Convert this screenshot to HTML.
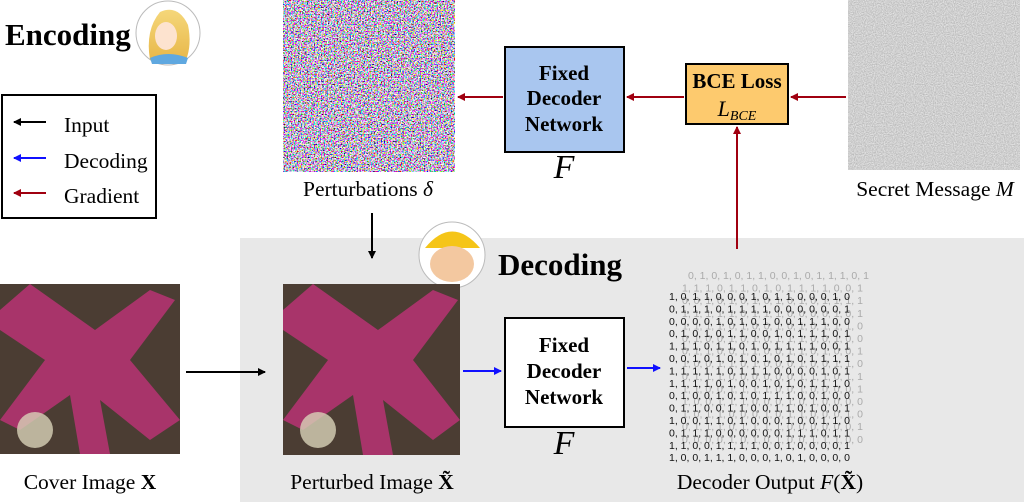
<!DOCTYPE html>
<html><head><meta charset="utf-8"><style>
html,body{margin:0;padding:0;background:#fff}
svg{display:block}
text{font-family:"Liberation Serif",serif}
</style></head><body>
<svg id="s" width="1024" height="502" viewBox="0 0 1024 502" xmlns="http://www.w3.org/2000/svg">
<defs>
<marker id="mk" markerWidth="8" markerHeight="8" refX="7" refY="4" orient="auto" markerUnits="userSpaceOnUse"><path d="M0,0 L8,4 L0,8 Z" fill="#000"/></marker>
<marker id="mb" markerWidth="8" markerHeight="8" refX="7" refY="4" orient="auto" markerUnits="userSpaceOnUse"><path d="M0,0 L8,4 L0,8 Z" fill="#1010ff"/></marker>
<marker id="mr" markerWidth="8" markerHeight="8" refX="7" refY="4" orient="auto" markerUnits="userSpaceOnUse"><path d="M0,0 L8,4 L0,8 Z" fill="#a00010"/></marker>
<filter id="noise" x="0" y="0" width="1" height="1"><feTurbulence type="fractalNoise" baseFrequency="0.7" numOctaves="2" seed="3"/><feColorMatrix type="matrix" values="4.5 0 0 0 -1.6  0 4.5 0 0 -1.7  0 0 4.5 0 -1.5  0 0 0 0 1"/></filter>
<filter id="gnoise" x="0" y="0" width="1" height="1"><feTurbulence type="fractalNoise" baseFrequency="0.9" numOctaves="1" seed="5"/><feColorMatrix type="matrix" values="0 0 0 0 0.4 0 0 0 0 0.4 0 0 0 0 0.4 1.2 0 0 0 -0.1"/></filter>
<linearGradient id="hair" x1="0" y1="0" x2="0" y2="1"><stop offset="0" stop-color="#f5d77a"/><stop offset="1" stop-color="#e8b84a"/></linearGradient>
</defs>

<rect x="240" y="238" width="784" height="264" fill="#e8e8e8"/>

<text x="5" y="45" font-size="31" font-weight="bold">Encoding</text>
<g>
<circle cx="168" cy="33" r="32" fill="#fff" stroke="#bbb"/>
<path d="M150,60 Q145,30 160,12 Q178,4 188,25 Q192,45 186,60 Z" fill="url(#hair)"/>
<ellipse cx="166" cy="36" rx="11" ry="14" fill="#fde3cf"/>
<path d="M150,58 Q168,50 188,58 L186,64 L152,64 Z" fill="#5fa8e0"/>
</g>

<g>
<rect x="2" y="95" width="154" height="123" fill="#fff" stroke="#000" stroke-width="2"/>
<line x1="46" y1="122" x2="14" y2="122" stroke="#000" stroke-width="2" marker-end="url(#mk)"/>
<text x="64" y="132" font-size="21.5">Input</text>
<line x1="46" y1="158" x2="14" y2="158" stroke="#1010ff" stroke-width="2" marker-end="url(#mb)"/>
<text x="64" y="168" font-size="21.5">Decoding</text>
<line x1="46" y1="193" x2="14" y2="193" stroke="#a00010" stroke-width="2" marker-end="url(#mr)"/>
<text x="64" y="203" font-size="21.5">Gradient</text>
</g>

<g>
<rect x="283" y="0" width="172" height="172" fill="#888"/>
<rect x="283" y="0" width="172" height="172" filter="url(#noise)"/>
</g>
<text x="368" y="196" font-size="21.5" text-anchor="middle">Perturbations <tspan font-style="italic">δ</tspan></text>

<g>
<rect x="505" y="47" width="119" height="105" fill="#a9c6ef" stroke="#000" stroke-width="2"/>
<text x="564" y="80" font-size="21" font-weight="bold" text-anchor="middle">Fixed</text>
<text x="564" y="105" font-size="21" font-weight="bold" text-anchor="middle">Decoder</text>
<text x="564" y="131" font-size="21" font-weight="bold" text-anchor="middle">Network</text>
<text x="564" y="178" font-size="34" font-style="italic" text-anchor="middle">F</text>
</g>

<g>
<rect x="686" y="64" width="102" height="60" fill="#fdca6e" stroke="#000" stroke-width="2"/>
<text x="737" y="88" font-size="21" font-weight="bold" text-anchor="middle">BCE Loss</text>
<text x="737" y="116" font-size="22" font-style="italic" text-anchor="middle">L<tspan font-size="14" dy="4">BCE</tspan></text>
</g>

<g>
<rect x="848" y="0" width="172" height="170" fill="#f4f4f4"/>
<rect x="848" y="0" width="172" height="170" filter="url(#gnoise)"/>
</g>
<text x="935" y="196" font-size="21.5" text-anchor="middle">Secret Message <tspan font-style="italic">M</tspan></text>

<line x1="846" y1="97" x2="791" y2="97" stroke="#a00010" stroke-width="2" marker-end="url(#mr)"/>
<line x1="684" y1="97" x2="627" y2="97" stroke="#a00010" stroke-width="2" marker-end="url(#mr)"/>
<line x1="503" y1="97" x2="458" y2="97" stroke="#a00010" stroke-width="2" marker-end="url(#mr)"/>
<line x1="737" y1="249" x2="737" y2="127" stroke="#a00010" stroke-width="2" marker-end="url(#mr)"/>
<line x1="372" y1="213" x2="372" y2="258" stroke="#000" stroke-width="2" marker-end="url(#mk)"/>

<g>
<circle cx="452" cy="255" r="33" fill="#fff" stroke="#bbb"/>
<path d="M425,248 Q452,215 480,248 Z" fill="#f5c518"/>
<ellipse cx="452" cy="264" rx="22" ry="18" fill="#f3c8a0"/>
</g>
<text x="498" y="275" font-size="31" font-weight="bold">Decoding</text>

<g>
<rect x="0" y="284" width="180" height="170" fill="#4b3d33"/>
<path d="M30,284 L95,330 L150,290 L175,300 L130,360 L180,420 L150,440 L100,400 L110,454 L80,454 L70,395 L20,430 L0,420 L45,360 L0,330 L0,310 Z" fill="#a8346a"/>
<circle cx="35" cy="430" r="18" fill="#d8d2b8" opacity="0.8"/>
</g>
<text x="90" y="489" font-size="21.5" text-anchor="middle">Cover Image <tspan font-weight="bold">X</tspan></text>

<g>
<rect x="283" y="284" width="177" height="171" fill="#4b3d33"/>
<path d="M313,284 L378,330 L433,290 L458,300 L413,360 L460,420 L433,440 L383,400 L393,455 L363,455 L353,395 L303,430 L283,420 L328,360 L283,330 L283,310 Z" fill="#a8346a"/>
<circle cx="318" cy="430" r="18" fill="#d8d2b8" opacity="0.8"/>
</g>
<text x="372" y="489" font-size="21.5" text-anchor="middle">Perturbed Image <tspan font-weight="bold">X̃</tspan></text>

<line x1="186" y1="372" x2="265" y2="372" stroke="#000" stroke-width="2" marker-end="url(#mk)"/>
<line x1="463" y1="371" x2="501" y2="371" stroke="#1010ff" stroke-width="2" marker-end="url(#mb)"/>

<g>
<rect x="505" y="318" width="119" height="109" fill="#fff" stroke="#000" stroke-width="2"/>
<text x="564" y="352" font-size="21" font-weight="bold" text-anchor="middle">Fixed</text>
<text x="564" y="378" font-size="21" font-weight="bold" text-anchor="middle">Decoder</text>
<text x="564" y="404" font-size="21" font-weight="bold" text-anchor="middle">Network</text>
<text x="564" y="454" font-size="34" font-style="italic" text-anchor="middle">F</text>
</g>
<line x1="627" y1="368" x2="660" y2="368" stroke="#1010ff" stroke-width="2" marker-end="url(#mb)"/>

<g id="bits"></g>
<text x="770" y="489" font-size="21.5" text-anchor="middle">Decoder Output <tspan font-style="italic">F</tspan>(<tspan font-weight="bold">X̃</tspan>)</text>
</svg>
<script>
const rowsFront=["1, 0, 1, 1, 0, 0, 0, 1, 0, 1, 1, 0, 0, 0, 1, 0","0, 1, 1, 1, 0, 1, 1, 1, 1, 0, 0, 0, 0, 0, 0, 1","0, 0, 0, 0, 1, 0, 1, 0, 1, 0, 0, 1, 1, 1, 0, 0","0, 1, 0, 1, 0, 1, 1, 0, 0, 1, 0, 1, 1, 1, 0, 1","1, 1, 1, 0, 1, 1, 0, 1, 0, 1, 1, 1, 1, 0, 0, 1","0, 0, 1, 0, 1, 0, 1, 0, 1, 0, 1, 0, 1, 1, 1, 1","1, 1, 1, 1, 1, 0, 1, 1, 1, 0, 0, 0, 0, 1, 0, 1","1, 1, 1, 1, 0, 1, 0, 0, 1, 0, 1, 0, 1, 1, 1, 0","0, 1, 0, 0, 1, 0, 1, 0, 1, 1, 1, 0, 0, 1, 0, 0","0, 1, 1, 0, 0, 1, 1, 0, 0, 1, 1, 0, 1, 0, 0, 1","1, 0, 0, 1, 1, 0, 1, 0, 0, 0, 1, 0, 0, 1, 1, 0","0, 1, 1, 1, 0, 0, 0, 0, 0, 0, 1, 1, 1, 0, 1, 1","1, 1, 0, 0, 1, 1, 1, 1, 0, 0, 1, 0, 0, 0, 0, 1","1, 0, 0, 1, 1, 1, 0, 0, 0, 1, 0, 1, 0, 0, 0, 0"];
const g=document.getElementById('bits');
const ns="http://www.w3.org/2000/svg";
for(let r=0;r<14;r++){
  const t=document.createElementNS(ns,'text');
  
  
  t.setAttribute('x',r==0?688:682);t.setAttribute('y',279+r*12.6);
  t.setAttribute('font-size','10.5');t.setAttribute('fill','#aaa');
  t.setAttribute('style','font-family:"Liberation Sans",sans-serif');
  t.textContent=rowsFront[(r+3)%14];
  g.appendChild(t);
}
rowsFront.forEach((s,i)=>{
  const t=document.createElementNS(ns,'text');
  
  
  t.setAttribute('x',669);t.setAttribute('y',300+i*12.4);
  t.setAttribute('font-size','10.5');t.setAttribute('fill','#111');
  t.setAttribute('style','font-family:"Liberation Sans",sans-serif');
  t.textContent=s;
  g.appendChild(t);
});
</script>
</body></html>
